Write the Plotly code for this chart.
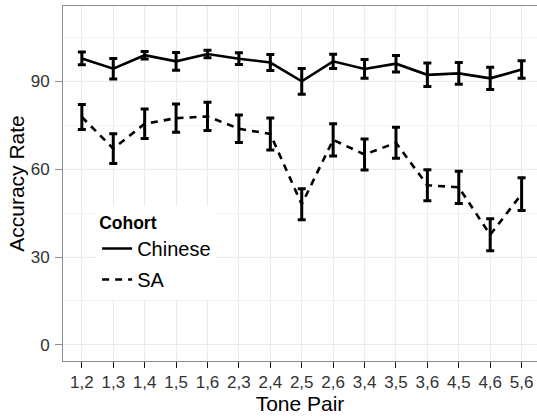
import plotly.graph_objects as go

tone_pairs = ["1,2", "1,3", "1,4", "1,5", "1,6", "2,3", "2,4", "2,5", "2,6",
              "3,4", "3,5", "3,6", "4,5", "4,6", "5,6"]
chinese_mean = [97.8, 94.3, 98.9, 96.8, 99.3, 97.7, 96.4, 90.0, 96.8,
                94.2, 96.0, 92.2, 92.7, 91.0, 94.0]
chinese_err = [2.2, 3.5, 1.3, 3.0, 1.3, 2.0, 2.7, 4.4, 2.4,
               3.2, 2.8, 4.0, 3.7, 3.8, 3.0]
sa_mean = [77.8, 67.0, 75.5, 77.4, 78.0, 73.8, 72.0, 48.0, 70.0,
           65.0, 69.0, 54.5, 53.8, 37.6, 51.5]
sa_err = [4.3, 5.1, 5.0, 4.8, 4.8, 4.7, 5.5, 5.3, 5.5,
          5.3, 5.3, 5.3, 5.5, 5.5, 5.6]

fig = go.Figure()
for name, mean, err, dash in [("Chinese", chinese_mean, chinese_err, "solid"),
                              ("SA", sa_mean, sa_err, "7px,6px")]:
    fig.add_trace(go.Scatter(
        x=tone_pairs, y=mean, name=name, mode="lines", legendgroup=name,
        line=dict(color="black", width=2.6, dash=dash),
        error_y=dict(type="data", array=err, visible=True,
                     color="black", thickness=3, width=4),
    ))

fig.update_layout(
    width=537, height=419,
    margin=dict(l=63, r=0, t=6, b=58),
    paper_bgcolor="white", plot_bgcolor="white",
    font=dict(family="Liberation Sans, Arial, sans-serif", color="black"),
    showlegend=True,
    legend=dict(
        title=dict(text="<b>Cohort</b>", font=dict(size=17.5)),
        font=dict(size=20),
        x=0.072, y=0.436, xanchor="left", yanchor="top",
        bgcolor="white", tracegroupgap=2, itemwidth=30,
    ),
    xaxis=dict(
        type="category", range=[-0.6, 14.49],
        title=dict(text="Tone Pair", font=dict(size=21), standoff=3),
        tickfont=dict(size=17, color="#333333"),
        showgrid=True, gridcolor="#ebebeb", gridwidth=1,
        showline=True, linecolor="#8c8c8c", linewidth=1, mirror=True,
        ticks="outside", ticklen=6, tickcolor="#1a1a1a", tickwidth=1,
        zeroline=False,
    ),
    yaxis=dict(
        range=[-5.5, 115.7],
        tickvals=[0, 30, 60, 90],
        title=dict(text="Accuracy Rate", font=dict(size=21), standoff=0),
        tickfont=dict(size=17, color="#333333"),
        ticklabelstandoff=2,
        showgrid=True, gridcolor="#ebebeb", gridwidth=1,
        minor=dict(tickvals=[15, 45, 75, 105], showgrid=True,
                   gridcolor="#f3f3f3", gridwidth=1, ticks=""),
        showline=True, linecolor="#8c8c8c", linewidth=1, mirror=False,
        ticks="outside", ticklen=7, tickcolor="#8c8c8c", tickwidth=1,
        zeroline=False,
    ),
)

fig.write_html("out.html")
